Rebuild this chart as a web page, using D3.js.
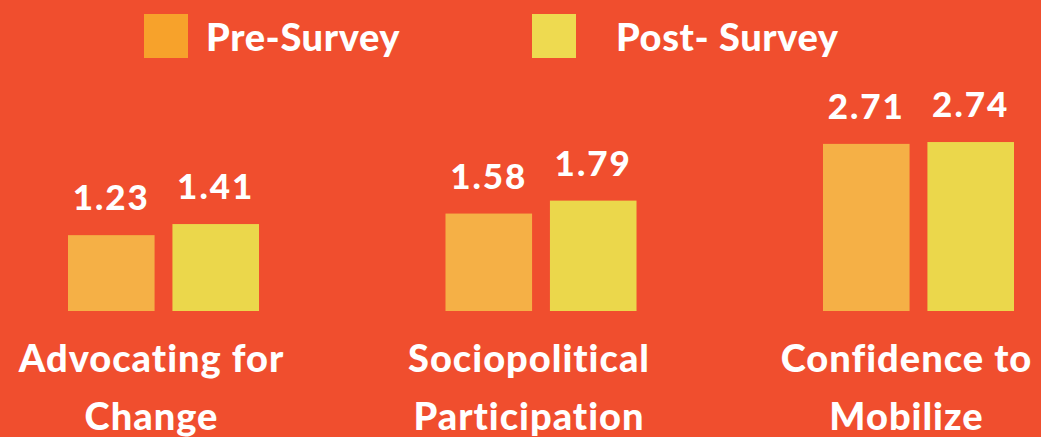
<!DOCTYPE html>
<html>
<head>
<meta charset="utf-8">
<script src="https://cdn.jsdelivr.net/npm/d3@7"></script>
<style>
  html, body { margin: 0; padding: 0; background: #f04e2e; }
  svg { display: block; }
  text { font-family: Lato, "Open Sans", sans-serif; font-weight: 900; fill: #fff; }
</style>
</head>
<body>
<div id="chart"></div>
<script>
const categories = [['Advocating for', 'Change'], ['Sociopolitical', 'Participation'], ['Confidence to', 'Mobilize']]
const seriesNames = ['Pre-Survey', 'Post- Survey']
const preValues = [1.23, 1.58, 2.71]
const postValues = [1.41, 1.79, 2.74]

const width = 1041
const height = 437
const barColors = ['#f5b046', '#ebd74b']
const legendColors = ['#f7a22b', '#eeda50']

const svg = d3.select('#chart')
  .append('svg')
  .attr('width', width)
  .attr('height', height)

svg.append('rect')
  .attr('width', width)
  .attr('height', height)
  .attr('fill', '#f04e2e')

const keys = categories.map(c => c.join(' '))

const x0 = d3.scaleBand()
  .domain(keys)
  .range([68, 1014])
  .paddingInner(0.494)
  .paddingOuter(0)

const x1 = d3.scaleBand()
  .domain(seriesNames)
  .range([0, x0.bandwidth()])
  .paddingInner(0.171)
  .paddingOuter(0)

const y = d3.scaleLinear()
  .domain([0, 3])
  .range([311, 126])

const rows = keys.map((k, i) => ({
  key: k,
  lines: categories[i],
  values: [preValues[i], postValues[i]]
}))

const groups = svg.selectAll('g.group')
  .data(rows)
  .enter()
  .append('g')
  .attr('class', 'group')
  .attr('transform', d => `translate(${x0(d.key)}, 0)`)

const bars = groups.selectAll('g.bar')
  .data(d => d.values.map((v, j) => ({ name: seriesNames[j], value: v, idx: j })))
  .enter()
  .append('g')
  .attr('class', 'bar')

bars.append('rect')
  .attr('x', d => x1(d.name))
  .attr('y', d => y(d.value))
  .attr('width', x1.bandwidth())
  .attr('height', d => y(0) - y(d.value))
  .attr('fill', d => barColors[d.idx])

bars.append('text')
  .attr('x', d => x1(d.name) + x1.bandwidth() / 2)
  .attr('y', d => y(d.value) - 25)
  .attr('text-anchor', 'middle')
  .style('font-size', '35px')
  .style('letter-spacing', '2px')
  .text(d => d.value.toFixed(2))

// category labels, two lines under each group
groups.append('text')
  .attr('text-anchor', 'middle')
  .style('font-size', '38px')
  .style('letter-spacing', '1px')
  .selectAll('tspan')
  .data(d => d.lines)
  .enter()
  .append('tspan')
  .attr('x', x0.bandwidth() / 2 - 12)
  .attr('y', (d, i) => 372 + i * 58)
  .text(d => d)

// legend
const legendX = [144, 532]
const legend = svg.selectAll('g.legend')
  .data(seriesNames)
  .enter()
  .append('g')
  .attr('class', 'legend')
  .attr('transform', (d, i) => `translate(${legendX[i]}, 14)`)

legend.append('rect')
  .attr('width', 44)
  .attr('height', 44)
  .attr('fill', (d, i) => legendColors[i])

legend.append('text')
  .attr('x', (d, i) => i === 0 ? 62 : 84)
  .attr('y', 37)
  .style('font-size', '38px')
  .style('letter-spacing', '0.6px')
  .text(d => d)
</script>
</body>
</html>
